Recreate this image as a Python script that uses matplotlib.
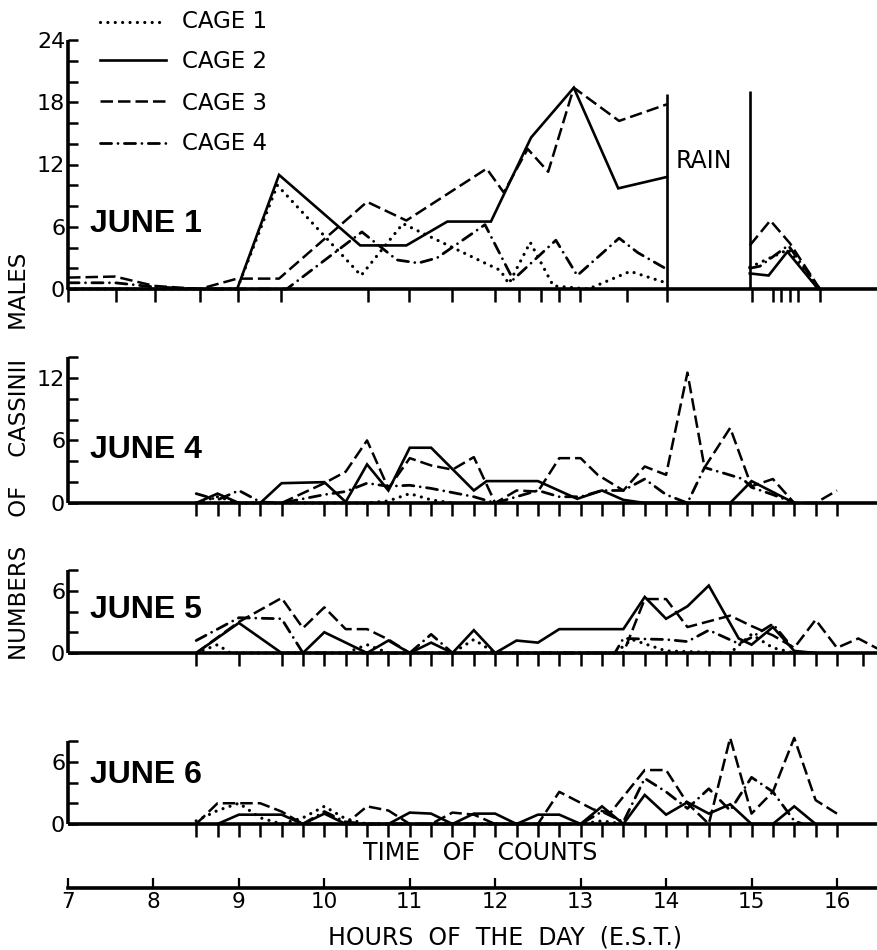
import numpy as np
import matplotlib
matplotlib.use('Agg')
import matplotlib.pyplot as plt
from matplotlib.lines import Line2D

nan = np.nan
cages = ['CAGE 1', 'CAGE 2', 'CAGE 3', 'CAGE 4']
hours = list(range(7, 17))

# ---------------- JUNE 1 ----------------
j1_ticks = [7.0, 7.56, 8.02, 8.55, 8.99, 9.49, 10.51, 10.99, 11.49, 12.0, 12.28, 12.54,
            12.75, 12.99, 13.54, 14.01, 15.01, 15.25, 15.35, 15.45, 15.54, 15.8]
j1_c1_t = [7.0, 8.98, 9.45, 10.43, 10.92, 11.88, 12.06, 12.16, 12.41, 12.68, 13.09, 13.58, 13.96,
           nan, 14.98, 15.43, 15.78]
j1_c1_v = [0, 0, 10.0, 1.3, 6.3, 2.5, 1.8, 0.5, 4.5, 0.3, 0, 1.7, 0.7,
           nan, 2.1, 3.8, 0]
j1_c2_t = [7.0, 8.98, 9.47, 10.42, 10.96, 11.44, 11.95, 12.42, 12.92, 13.44, 14.01,
           nan, 14.98, 15.2, 15.42, 15.78]
j1_c2_v = [0, 0, 11.0, 4.2, 4.2, 6.5, 6.5, 14.6, 19.4, 9.7, 10.8,
           nan, 1.5, 1.3, 3.6, 0]
j1_c3_t = [7.0, 7.55, 8.01, 8.54, 8.98, 9.47, 10.5, 10.96, 11.9, 12.1, 12.38, 12.62, 12.92,
           13.45, 14.01, nan, 14.98, 15.22, 15.45, 15.8]
j1_c3_v = [1.1, 1.2, 0.3, 0, 1.0, 1.0, 8.4, 6.6, 11.6, 9.3, 13.5, 11.3, 19.4,
           16.2, 17.8, nan, 4.2, 6.6, 4.4, 0]
j1_c4_t = [7.0, 7.55, 8.01, 8.54, 9.56, 10.44, 10.85, 11.1, 11.32, 11.88, 12.21, 12.71, 12.96,
           13.45, 13.67, 14.01, nan, 14.98, 15.1, 15.43, 15.8]
j1_c4_v = [0.6, 0.6, 0.2, 0, 0, 5.5, 2.8, 2.5, 3.0, 6.2, 0.9, 4.7, 1.3,
           4.9, 3.5, 1.9, nan, 2.0, 2.2, 4.2, 0]
rain_bounds = [14.01, 14.98]
rain_tops = [18.8, 19.1]

# ---------------- JUNE 4 ----------------
j4_ticks = [8.5, 8.75, 9.0, 9.25, 9.5, 10.0, 10.25, 10.5, 10.75, 11.0, 11.25, 11.5, 11.75,
            12.0, 12.25, 12.5, 12.75, 13.0, 13.25, 13.5, 13.75, 14.0, 14.25, 14.5, 14.75,
            15.0, 15.25, 15.5, 15.75, 16.0]
j4_c1_t = [8.5, 8.75, 9.0, 10.5, 10.75, 11.0, 11.25, 11.5]
j4_c1_v = [0, 0.6, 0, 0, 0.2, 0.9, 0.3, 0]
j4_c2_t = [8.5, 8.75, 9.0, 9.25, 9.5, 10.0, 10.25, 10.5, 10.75, 11.0, 11.25, 11.75, 11.9,
           12.5, 12.96, 13.25, 13.5, 13.75, 14.75, 15.0, 15.5]
j4_c2_v = [0, 0.9, 0, 0, 1.9, 2.0, 0.1, 3.7, 1.2, 5.3, 5.3, 1.2, 2.1,
           2.1, 0.4, 1.2, 0.3, 0, 0, 2.1, 0]
j4_c3_t = [9.5, 10.0, 10.25, 10.5, 10.75, 11.0, 11.25, 11.5, 11.75, 12.0, 12.25, 12.5, 12.75,
           13.0, 13.2, 13.5, 13.75, 14.0, 14.25, 14.45, 14.75, 15.0, 15.25, 15.5, 15.75, 16.0]
j4_c3_v = [0, 1.9, 3.0, 6.0, 1.4, 4.3, 3.6, 3.2, 4.4, 0, 1.2, 1.1, 4.3,
           4.3, 2.7, 1.2, 3.5, 2.7, 12.5, 3.4, 7.2, 1.6, 2.3, 0, 0, 1.2]
j4_c4_t = [8.5, 8.75, 9.0, 9.25, 9.5, 10.0, 10.25, 10.5, 10.75, 11.0, 11.25, 11.75, 12.0,
           12.25, 12.5, 12.75, 13.0, 13.25, 13.5, 13.75, 14.0, 14.25, 14.45, 14.7, 14.9,
           15.0, 15.25, 15.5]
j4_c4_v = [0.9, 0.3, 1.2, 0.1, 0, 0.8, 1.1, 1.9, 1.6, 1.7, 1.4, 0.6, 0,
           0.6, 1.2, 0.6, 0.6, 1.2, 1.2, 2.3, 0.8, 0, 3.4, 2.8, 2.3,
           1.5, 0.8, 0]

# ---------------- JUNE 5 ----------------
j5_ticks = [8.5, 9.0, 9.5, 9.75, 10.0, 10.25, 10.5, 10.75, 11.0, 11.25, 11.5, 11.75, 12.0,
            12.25, 12.5, 12.75, 13.0, 13.25, 13.5, 13.75, 14.0, 14.25, 14.5, 14.75, 15.0,
            15.25, 15.5, 15.75, 16.0, 16.3]
j5_c1_t = [8.5, 8.75, 8.9, 10.25, 10.5, 10.75, 11.5, 11.75, 12.0, 13.4, 13.6, 14.0,
           14.75, 15.0, 15.25, 15.5]
j5_c1_v = [0, 0.8, 0, 0, 0.8, 0, 0, 1.3, 0, 0, 1.3, 0.2,
           0, 1.8, 0.5, 0]
j5_c2_t = [8.5, 9.0, 9.5, 9.75, 10.0, 10.5, 10.75, 11.0, 11.25, 11.5, 11.75, 12.0, 12.25,
           12.5, 12.75, 13.5, 13.75, 14.0, 14.25, 14.5, 14.85, 15.0, 15.25, 15.5, 15.75]
j5_c2_v = [0, 2.9, 0, 0, 2.0, 0, 1.2, 0, 1.0, 0, 2.2, 0, 1.2,
           1.0, 2.3, 2.3, 5.4, 3.3, 4.5, 6.5, 1.4, 0.8, 2.5, 0.2, 0]
j5_c3_t = [8.5, 9.0, 9.5, 9.75, 10.0, 10.25, 10.5, 10.75, 11.0, 13.5, 13.75, 14.0, 14.25,
           14.75, 15.0, 15.25, 15.5, 15.75, 16.0, 16.25, 16.48]
j5_c3_v = [0, 3.0, 5.3, 2.4, 4.4, 2.3, 2.3, 1.3, 0, 0, 5.2, 5.2, 2.5,
           3.6, 2.6, 1.7, 0.5, 3.2, 0.5, 1.4, 0.4]
j5_c4_t = [8.5, 9.0, 9.5, 9.75, 11.0, 11.25, 11.5, 13.4, 13.5, 14.0, 14.25, 14.5, 14.85,
           15.0, 15.25, 15.5]
j5_c4_v = [1.2, 3.4, 3.3, 0, 0, 1.8, 0, 0, 1.4, 1.3, 1.1, 2.2, 0.9,
           1.5, 2.8, 0.3]

# ---------------- JUNE 6 ----------------
j6_ticks = [8.5, 8.75, 9.0, 9.25, 9.5, 9.75, 10.0, 10.25, 10.5, 10.75, 11.0, 11.25, 11.5,
            11.75, 12.0, 12.25, 12.5, 12.75, 13.0, 13.25, 13.5, 13.75, 14.0, 14.25, 14.5,
            14.75, 15.0, 15.25, 15.5, 15.75, 16.0]
j6_c1_t = [8.5, 8.75, 9.0, 9.25, 9.5, 9.75, 10.0, 10.25, 10.5, 13.0, 13.25, 13.5]
j6_c1_v = [0.3, 1.3, 2.0, 0.6, 0, 0.6, 1.7, 0.5, 0, 0, 0.3, 0]
j6_c2_t = [8.75, 9.0, 9.5, 9.75, 10.0, 10.25, 10.75, 11.0, 11.25, 11.5, 11.75, 12.0, 12.25,
           12.5, 12.75, 13.0, 13.25, 13.5, 13.75, 14.0, 14.25, 14.5, 14.75, 15.0, 15.25,
           15.5, 15.75]
j6_c2_v = [0, 0.9, 0.9, 0, 1.0, 0, 0, 1.1, 1.0, 0, 1.0, 1.0, 0,
           0.9, 0.9, 0, 1.7, 0, 2.8, 0.9, 2.1, 1.0, 1.9, 0, 0,
           1.7, 0]
j6_c3_t = [8.5, 8.75, 9.25, 9.5, 9.75, 10.25, 10.5, 10.75, 11.0, 11.25, 11.5, 11.75, 12.0,
           12.5, 12.75, 13.15, 13.35, 13.75, 14.0, 14.25, 14.5, 14.75, 15.0, 15.25, 15.5,
           15.75, 16.0]
j6_c3_v = [0, 2.0, 2.0, 1.2, 0, 0, 1.7, 1.3, 0, 0, 1.1, 0.9, 0,
           0, 3.1, 1.4, 1.1, 5.2, 5.2, 2.0, 0, 8.3, 1.0, 3.1, 8.3,
           2.3, 1.0]
j6_c4_t = [9.75, 10.0, 10.25, 10.5, 13.0, 13.25, 13.5, 13.75, 14.0, 14.25, 14.5, 14.75,
           15.0, 15.25, 15.5, 15.6]
j6_c4_v = [0, 1.2, 0.2, 0, 0, 1.2, 0.2, 4.4, 3.1, 1.5, 3.4, 1.3,
           4.5, 3.1, 0.3, 0]

panels = [
    dict(label='JUNE 1', top=40, base=289, ymax=24, ticks=j1_ticks, label_base=232,
         series=[(j1_c1_t, j1_c1_v), (j1_c2_t, j1_c2_v), (j1_c3_t, j1_c3_v), (j1_c4_t, j1_c4_v)]),
    dict(label='JUNE 4', top=357, base=503, ymax=14, ticks=j4_ticks, label_base=458,
         series=[(j4_c1_t, j4_c1_v), (j4_c2_t, j4_c2_v), (j4_c3_t, j4_c3_v), (j4_c4_t, j4_c4_v)]),
    dict(label='JUNE 5', top=570, base=653, ymax=8, ticks=j5_ticks, label_base=618,
         series=[(j5_c1_t, j5_c1_v), (j5_c2_t, j5_c2_v), (j5_c3_t, j5_c3_v), (j5_c4_t, j5_c4_v)]),
    dict(label='JUNE 6', top=741, base=824, ymax=8, ticks=j6_ticks, label_base=783,
         series=[(j6_c1_t, j6_c1_v), (j6_c2_t, j6_c2_v), (j6_c3_t, j6_c3_v), (j6_c4_t, j6_c4_v)]),
]

styles = [
    dict(linestyle=(0, (0.01, 2.3)), lw=2.3, dash_capstyle='round'),
    dict(linestyle='-', lw=1.9),
    dict(linestyle=(0, (5.0, 2.0)), lw=1.8),
    dict(linestyle=(0, (4.0, 2.3, 0.01, 2.3)), lw=2.0, dash_capstyle='round'),
]

W, H = 878, 950
LEFT = 68
PX_PER_H = 85.44
XMIN = 7.0
XMAX = XMIN + (W - LEFT) / PX_PER_H

fig = plt.figure(figsize=(W / 100, H / 100), dpi=100)
fig.patch.set_facecolor('white')

def fx(px):
    return px / W

def fy(py):
    return 1 - py / H

for p in panels:
    ax = fig.add_axes([fx(LEFT), fy(p['base']), (W - LEFT) / W, (p['base'] - p['top']) / H])
    ax.set_xlim(XMIN, XMAX)
    ax.set_ylim(0, p['ymax'])
    ax.patch.set_alpha(0)
    for s in ['top', 'right']:
        ax.spines[s].set_visible(False)
    for s in ['left', 'bottom']:
        ax.spines[s].set_linewidth(2.6)
        ax.spines[s].set_capstyle('butt')
    yt = np.arange(0, p['ymax'] + 1, 2)
    ax.set_yticks(yt)
    ax.set_yticklabels([str(int(v)) if v % 6 == 0 else '' for v in yt])
    ax.tick_params(axis='y', direction='in', length=7, width=1.8, labelsize=16, pad=2)
    ax.set_xticks(p['ticks'])
    ax.set_xticklabels([])
    ax.tick_params(axis='x', direction='out', length=9, width=1.8)
    for (t, v), st in zip(p['series'], styles):
        ax.plot(t, v, color='black', clip_on=False, solid_joinstyle='miter', **st)
    fig.text(fx(90), fy(p['label_base']), p['label'], fontsize=23, fontweight='bold',
             family='Liberation Sans', va='baseline', ha='left')
    if p['label'] == 'JUNE 1':
        ax.vlines(rain_bounds, 0, rain_tops, color='black', lw=1.9)
        ax.text(rain_bounds[0] + 0.1, 11.7, 'RAIN', fontsize=17, va='baseline', ha='left')

# hours axis
hax = fig.add_axes([fx(LEFT), fy(888), (W - LEFT) / W, 0.0001])
hax.set_xlim(XMIN, XMAX)
hax.set_ylim(0, 1)
hax.patch.set_alpha(0)
for s in ['top', 'right', 'left']:
    hax.spines[s].set_visible(False)
hax.spines['bottom'].set_linewidth(2.6)
hax.set_yticks([])
hax.set_xticks(hours)
hax.set_xticklabels([str(h) for h in hours])
hax.tick_params(axis='x', direction='in', length=7, width=1.6, labelsize=15.5, pad=3)

# legend
leg_y = [22, 60, 101, 143]
leg_txt_base = [28, 68, 110, 150]
for i, (name, st) in enumerate(zip(cages, styles)):
    fig.add_artist(Line2D([fx(100), fx(166)], [fy(leg_y[i])] * 2, color='black',
                          transform=fig.transFigure, **st))
    fig.text(fx(182), fy(leg_txt_base[i]), name, fontsize=16.5, va='baseline', ha='left')

fig.text(fx(20), fy(456), 'NUMBERS    OF    CASSINII    MALES', rotation=90, fontsize=16.5,
         va='center', ha='center')
fig.text(fx(363), fy(860), 'TIME   OF   COUNTS', fontsize=17, va='baseline', ha='left')
fig.text(fx(328), fy(945), 'HOURS  OF  THE  DAY  (E.S.T.)', fontsize=17, va='baseline', ha='left')

fig.savefig('out.png', dpi=100, facecolor='white')
